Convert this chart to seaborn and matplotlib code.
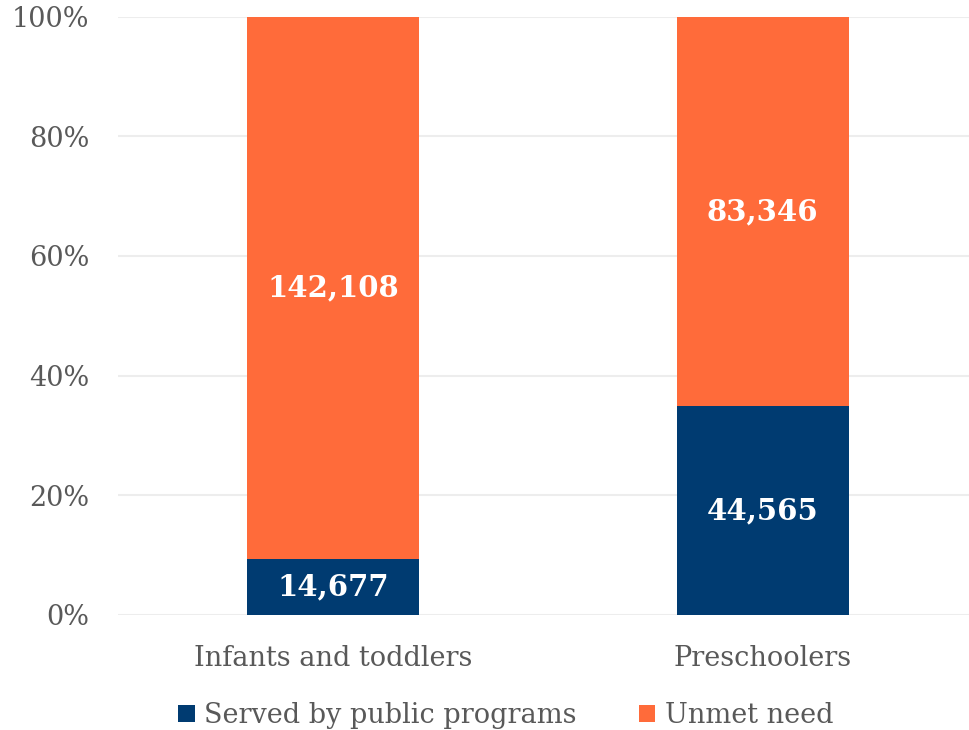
import matplotlib
matplotlib.use("Agg")
import matplotlib.pyplot as plt
import seaborn as sns
import pandas as pd
from matplotlib.patches import Patch

# Children counts by age group
categories = ["Infants and toddlers", "Preschoolers"]
served = [14677, 44565]
unmet = [142108, 83346]
series_names = ["Served by public programs", "Unmet need"]
y_ticks = [0, 20, 40, 60, 80, 100]

navy = "#003B71"
orange = "#FF6B3A"
text_gray = "#595959"

sns.set_theme(style="white")
plt.rcParams["font.family"] = ["DejaVu Serif"]

totals = [s + u for s, u in zip(served, unmet)]
df = pd.DataFrame({
    "category": categories,
    "served_pct": [100 * s / t for s, t in zip(served, totals)],
    "total_pct": [100.0 for _ in totals],
})

fig = plt.figure(figsize=(9.69, 7.30), dpi=100)
ax = fig.add_axes([0.122, 0.158, 0.878, 0.819])

sns.barplot(data=df, x="category", y="total_pct", color=orange, width=0.4,
            saturation=1, ax=ax, zorder=2, linewidth=0)
sns.barplot(data=df, x="category", y="served_pct", color=navy, width=0.4,
            saturation=1, ax=ax, zorder=3, linewidth=0)

# Value labels centered in each segment
for i, (s, u, t) in enumerate(zip(served, unmet, totals)):
    sp = 100 * s / t
    ax.text(i, sp / 2, f"{s:,}", ha="center", va="center", color="white",
            fontsize=21, fontweight="bold", zorder=4)
    ax.text(i, sp + (100 - sp) / 2, f"{u:,}", ha="center", va="center",
            color="white", fontsize=21, fontweight="bold", zorder=4)

ax.set_ylim(0, 100)
ax.set_xlim(-0.5, 1.48)
ax.set_yticks(y_ticks)
ax.set_yticklabels([f"{v}%" for v in y_ticks])
ax.yaxis.grid(True, color="#EDEDED", linewidth=1.5, zorder=0)
ax.set_axisbelow(True)
for sp_ in ax.spines.values():
    sp_.set_visible(False)
ax.set_xlabel("")
ax.set_ylabel("")
ax.tick_params(axis="y", labelsize=19.5, colors=text_gray, length=0, pad=21)
ax.tick_params(axis="x", labelsize=19.5, colors=text_gray, length=0, pad=22)

handles = [Patch(facecolor=navy, edgecolor="none"),
           Patch(facecolor=orange, edgecolor="none")]
leg = fig.legend(handles, series_names, loc="center", ncol=2,
                 bbox_to_anchor=(0.522, 0.02), frameon=False,
                 fontsize=19.5, handlelength=0.6, handleheight=0.6,
                 handletextpad=0.35, columnspacing=2.3)
for t in leg.get_texts():
    t.set_color(text_gray)

fig.savefig("out.png", dpi=100)
